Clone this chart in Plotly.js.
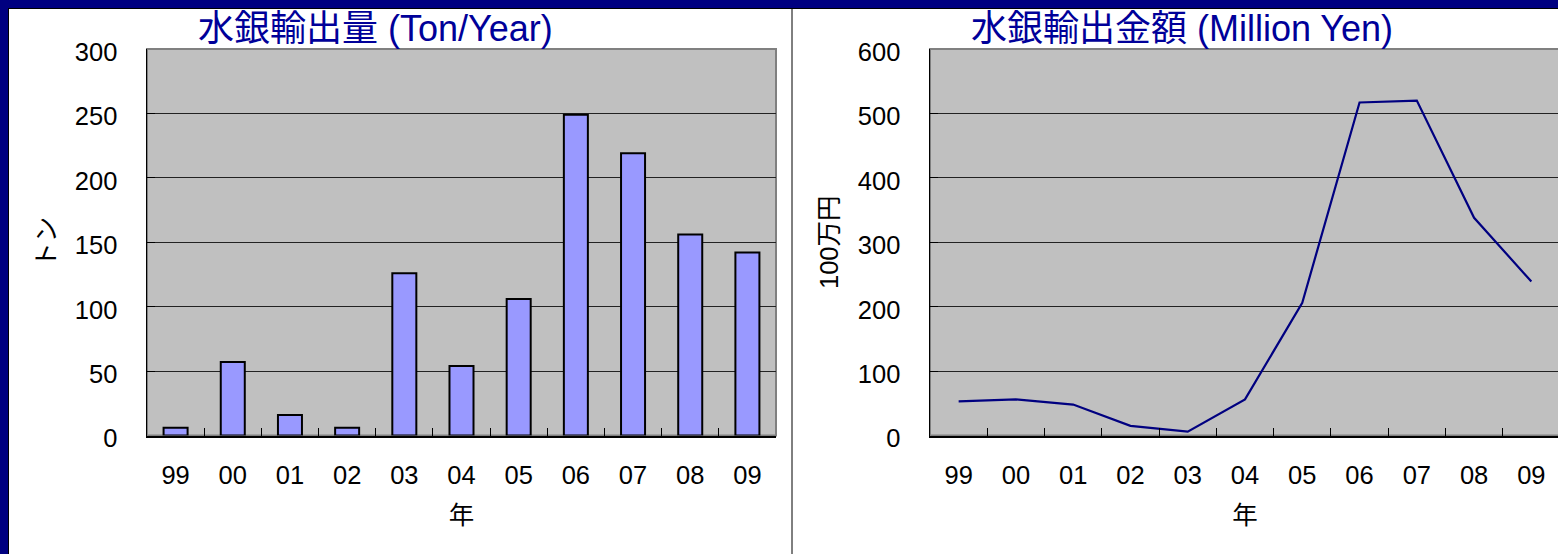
<!DOCTYPE html>
<html>
<head>
<meta charset="utf-8">
<script src="https://cdn.plot.ly/plotly-3.0.1.min.js"></script>
<style>
html,body{margin:0;padding:0;overflow:hidden;background:#fff;}
#chart{width:1600px;height:554px;}
</style>
</head>
<body>
<div id="chart"></div>
<script>
// ---- data ----
const years = ['99','00','01','02','03','04','05','06','07','08','09'];
const exportTons = [6, 57, 16, 6, 126, 54, 106, 249, 219, 156, 142];
const exportValueMillionYen = [53, 56, 48, 15, 6, 56, 206, 517, 520, 338, 239];
const leftTitle = '水銀輸出量 (Ton/Year)';
const rightTitle = '水銀輸出金額 (Million Yen)';
const leftYTitle = 'トン';
const rightYTitle = '100万円';
const xTitle = '年';

// ---- layout geometry ----
const W = 1600, H = 554;
const px = v => v / W;
const py = v => 1 - v / H;
const FONT = 'Liberation Sans, Arial, Noto Sans CJK JP, sans-serif';

const tickFont = {family: FONT, size: 25.5, color: '#000'};

function xAxis(domain, anchor) {
  return {
    domain: domain, anchor: anchor, type: 'category',
    range: [-0.5, 10.5], fixedrange: true,
    tickson: 'boundaries', ticks: 'inside', ticklen: 8, tickwidth: 1, tickcolor: '#000',
    showline: true, linecolor: '#000', linewidth: 2,
    showgrid: false, zeroline: false,
    tickfont: tickFont, ticklabelstandoff: 16,
    title: {text: xTitle, font: {family: FONT, size: 25.5, color: '#000'}, standoff: 18}
  };
}
function yAxis(domain, anchor, range, dtick, title) {
  return {
    domain: domain, anchor: anchor, range: range, dtick: dtick, fixedrange: true,
    ticks: 'inside', ticklen: 8, tickwidth: 1, tickcolor: '#000',
    showline: true, linecolor: '#000', linewidth: 1.5,
    showgrid: true, gridcolor: '#222', gridwidth: 1, zeroline: false,
    tickfont: tickFont, ticklabelstandoff: 23, ticklabelshift: 3,
    title: {text: title, font: {family: FONT, size: 25.5, color: '#000'}, standoff: 12}
  };
}

const yDom = [py(435.5), py(49)];

const traces = [
  {
    type: 'bar', x: years, y: exportTons, xaxis: 'x', yaxis: 'y',
    width: 0.42,
    marker: {color: '#9999FF', line: {color: '#000', width: 2}},
    hoverinfo: 'x+y', showlegend: false
  },
  {
    type: 'scatter', mode: 'lines', x: years, y: exportValueMillionYen,
    xaxis: 'x2', yaxis: 'y2',
    line: {color: '#000080', width: 2.2},
    showlegend: false
  }
];

const layout = {
  width: W, height: H,
  margin: {l: 0, r: 0, t: 0, b: 0, pad: 0},
  paper_bgcolor: '#FFFFFF', plot_bgcolor: '#C0C0C0',
  showlegend: false,
  xaxis: xAxis([px(147), px(776)], 'y'),
  yaxis: yAxis(yDom, 'x', [0, 300], 50, leftYTitle),
  xaxis2: xAxis([px(930), px(1560)], 'y2'),
  yaxis2: yAxis(yDom, 'x2', [0, 600], 100, rightYTitle),
  annotations: [
    {text: leftTitle, xref: 'paper', yref: 'paper', x: px(375), y: py(29),
     xanchor: 'center', yanchor: 'middle', showarrow: false,
     font: {family: FONT, size: 36, color: '#000099'}},
    {text: rightTitle, xref: 'paper', yref: 'paper', x: px(1182), y: py(29),
     xanchor: 'center', yanchor: 'middle', showarrow: false,
     font: {family: FONT, size: 36, color: '#000099'}}
  ],
  shapes: [
    // plot area borders (gray, Excel style)
    {type: 'rect', xref: 'x domain', yref: 'y domain', x0: 0, x1: 1, y0: 0, y1: 1,
     line: {color: '#808080', width: 2}, layer: 'below'},
    {type: 'rect', xref: 'x2 domain', yref: 'y2 domain', x0: 0, x1: 1, y0: 0, y1: 1,
     line: {color: '#808080', width: 2}, layer: 'below'},
    // navy slide frame
    {type: 'rect', xref: 'paper', yref: 'paper', x0: 0, x1: 1, y0: py(8), y1: 1,
     fillcolor: '#000080', line: {width: 0}},
    {type: 'rect', xref: 'paper', yref: 'paper', x0: 0, x1: px(8), y0: 0, y1: 1,
     fillcolor: '#000080', line: {width: 0}},
    {type: 'line', xref: 'paper', yref: 'paper', x0: px(8), x1: 1, y0: py(8.5), y1: py(8.5),
     line: {color: '#000', width: 1}},
    {type: 'line', xref: 'paper', yref: 'paper', x0: px(8.5), x1: px(8.5), y0: 0, y1: py(8),
     line: {color: '#000', width: 1}},
    // separator between the two charts
    {type: 'line', xref: 'paper', yref: 'paper', x0: px(792), x1: px(792), y0: 0, y1: py(8),
     line: {color: '#000', width: 1}}
  ]
};

Plotly.newPlot('chart', traces, layout, {displayModeBar: false, staticPlot: true});
</script>
</body>
</html>
